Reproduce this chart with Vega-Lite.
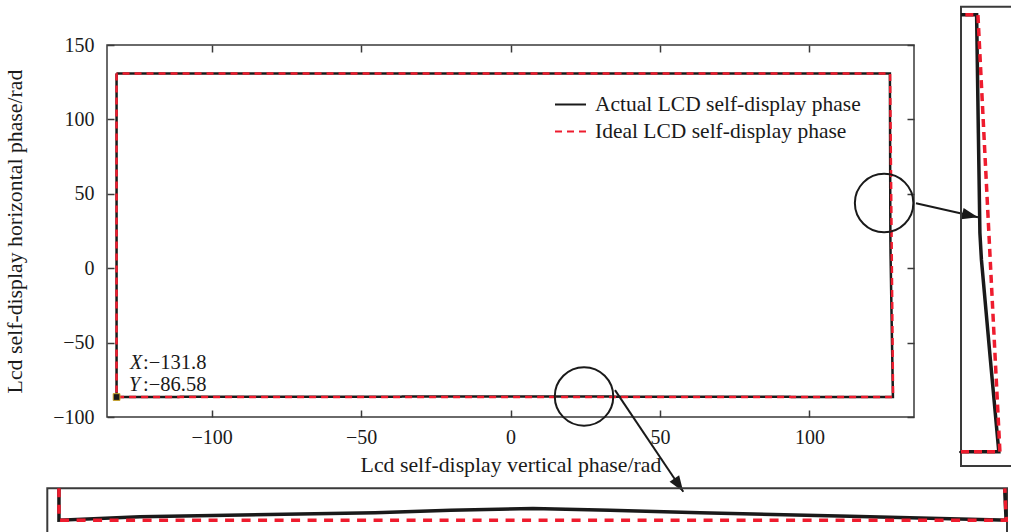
{
  "$schema": "https://vega.github.io/schema/vega-lite/v6.json",
  "width": 807,
  "height": 372,
  "autosize": {"type": "none"},
  "padding": {"left": 107, "top": 45, "right": 97, "bottom": 115},
  "background": "white",
  "config": {
    "view": {"stroke": "#3a3a3a", "strokeWidth": 1.5},
    "font": "Liberation Serif",
    "axis": {
      "labelFont": "Liberation Serif", "labelFontSize": 20, "labelColor": "#1a1a1a",
      "titleFont": "Liberation Serif", "titleFontSize": 21.8, "titleFontWeight": "normal", "titleColor": "#1a1a1a",
      "grid": false, "domain": false, "tickColor": "#3a3a3a", "tickWidth": 1.5, "tickSize": -7
    },
    "legend": {
      "orient": "none", "legendX": 447, "legendY": 43, "padding": 0,
      "symbolType": "stroke", "symbolSize": 961, "symbolStrokeWidth": 2,
      "labelFont": "Liberation Serif", "labelFontSize": 21.5, "labelColor": "#1a1a1a",
      "labelOffset": 8, "rowPadding": -0.5, "labelLimit": 400
    }
  },
  "datasets": {
    "phase": [
      {"series": "Actual LCD self-display phase", "i": 0, "vertical": -131.8, "horizontal": 130.8},
      {"series": "Actual LCD self-display phase", "i": 1, "vertical": -131.8, "horizontal": 0},
      {"series": "Actual LCD self-display phase", "i": 2, "vertical": -131.8, "horizontal": -86.58},
      {"series": "Actual LCD self-display phase", "i": 3, "vertical": -109.6, "horizontal": -86.47},
      {"series": "Actual LCD self-display phase", "i": 4, "vertical": -45.1, "horizontal": -86.34},
      {"series": "Actual LCD self-display phase", "i": 5, "vertical": -24.4, "horizontal": -86.26},
      {"series": "Actual LCD self-display phase", "i": 6, "vertical": -1.8, "horizontal": -86.2},
      {"series": "Actual LCD self-display phase", "i": 7, "vertical": 19.3, "horizontal": -86.26},
      {"series": "Actual LCD self-display phase", "i": 8, "vertical": 44.0, "horizontal": -86.34},
      {"series": "Actual LCD self-display phase", "i": 9, "vertical": 85.1, "horizontal": -86.45},
      {"series": "Actual LCD self-display phase", "i": 10, "vertical": 126.3, "horizontal": -86.57},
      {"series": "Actual LCD self-display phase", "i": 11, "vertical": 127.95, "horizontal": -86.58},
      {"series": "Actual LCD self-display phase", "i": 12, "vertical": 127.56, "horizontal": -40},
      {"series": "Actual LCD self-display phase", "i": 13, "vertical": 127.16, "horizontal": 8.8},
      {"series": "Actual LCD self-display phase", "i": 14, "vertical": 127.09, "horizontal": 22.2},
      {"series": "Actual LCD self-display phase", "i": 15, "vertical": 127.02, "horizontal": 71.95},
      {"series": "Actual LCD self-display phase", "i": 16, "vertical": 126.94, "horizontal": 130.8},
      {"series": "Actual LCD self-display phase", "i": 17, "vertical": 0, "horizontal": 130.8},
      {"series": "Actual LCD self-display phase", "i": 18, "vertical": -131.8, "horizontal": 130.8},
      {"series": "Ideal LCD self-display phase", "i": 0, "vertical": -131.8, "horizontal": 130.8},
      {"series": "Ideal LCD self-display phase", "i": 1, "vertical": -131.8, "horizontal": 0},
      {"series": "Ideal LCD self-display phase", "i": 2, "vertical": -131.8, "horizontal": -86.58},
      {"series": "Ideal LCD self-display phase", "i": 3, "vertical": 0, "horizontal": -86.58},
      {"series": "Ideal LCD self-display phase", "i": 4, "vertical": 128.0, "horizontal": -86.58},
      {"series": "Ideal LCD self-display phase", "i": 5, "vertical": 127.6, "horizontal": 0},
      {"series": "Ideal LCD self-display phase", "i": 6, "vertical": 127.0, "horizontal": 130.8},
      {"series": "Ideal LCD self-display phase", "i": 7, "vertical": 0, "horizontal": 130.8},
      {"series": "Ideal LCD self-display phase", "i": 8, "vertical": -131.8, "horizontal": 130.8}
    ]
  },
  "layer": [
    {
      "layer": [
        {
          "data": {"name": "phase"},
          "mark": {"type": "line", "strokeWidth": 2.5, "strokeCap": "butt"},
          "encoding": {
            "x": {"field": "vertical", "type": "quantitative",
              "scale": {"domain": [-135, 135], "nice": false, "zero": false},
              "axis": {"orient": "bottom", "values": [-100, -50, 0, 50, 100], "title": "Lcd self-display vertical phase/rad", "labelPadding": 17, "titlePadding": 7}},
            "y": {"field": "horizontal", "type": "quantitative",
              "scale": {"domain": [-100, 150], "nice": false, "zero": false},
              "axis": {"orient": "left", "values": [-100, -50, 0, 50, 100, 150], "title": "Lcd self-display horizontal phase/rad", "labelPadding": 20, "titlePadding": 26}},
            "order": {"field": "i", "type": "quantitative"},
            "color": {"field": "series", "type": "nominal",
              "scale": {"domain": ["Actual LCD self-display phase", "Ideal LCD self-display phase"], "range": ["#1a1a1a", "#ee1c2e"]},
              "legend": {"title": null}},
            "strokeDash": {"field": "series", "type": "nominal",
              "scale": {"domain": ["Actual LCD self-display phase", "Ideal LCD self-display phase"], "range": [[1, 0], [7, 5]]},
              "legend": {"title": null}}
          }
        },
        {
          "data": {"name": "phase"},
          "mark": {"type": "point", "opacity": 0},
          "encoding": {
            "x": {"field": "vertical", "type": "quantitative",
              "scale": {"domain": [-135, 135], "nice": false, "zero": false},
              "axis": {"orient": "top", "values": [-100, -50, 0, 50, 100], "labels": false, "title": null}},
            "y": {"field": "horizontal", "type": "quantitative",
              "scale": {"domain": [-100, 150], "nice": false, "zero": false},
              "axis": {"orient": "right", "values": [-100, -50, 0, 50, 100, 150], "labels": false, "title": null}}
          }
        },
        {
          "data": {"values": [{"vertical": 125.0, "horizontal": 43.8}, {"vertical": 24.6, "horizontal": -86.2}]},
          "mark": {"type": "point", "shape": "circle", "filled": false, "size": 3421, "stroke": "#1a1a1a", "strokeWidth": 2, "opacity": 1},
          "encoding": {
            "x": {"field": "vertical", "type": "quantitative", "axis": null},
            "y": {"field": "horizontal", "type": "quantitative", "axis": null}
          }
        },
        {
          "data": {"values": [{"vertical": 135.66, "horizontal": 43.67, "vertical2": 156.4, "horizontal2": 34.27}]},
          "layer": [
            {
              "mark": {"type": "rule", "color": "#1a1a1a", "strokeWidth": 2},
              "encoding": {
                "x": {"field": "vertical", "type": "quantitative", "axis": null},
                "y": {"field": "horizontal", "type": "quantitative", "axis": null},
                "x2": {"field": "vertical2"},
                "y2": {"field": "horizontal2"}
              }
            },
            {
              "mark": {"type": "point", "shape": "M0,0L-0.36,1L0.36,1Z", "filled": true, "color": "#1a1a1a", "size": 1024, "angle": 102.7, "opacity": 1},
              "encoding": {
                "x": {"field": "vertical2", "type": "quantitative", "axis": null},
                "y": {"field": "horizontal2", "type": "quantitative", "axis": null}
              }
            }
          ]
        },
        {
          "data": {"values": [{"vertical": 34.96, "horizontal": -81.93, "vertical2": 57.81, "horizontal2": -150.24}]},
          "layer": [
            {
              "mark": {"type": "rule", "color": "#1a1a1a", "strokeWidth": 2},
              "encoding": {
                "x": {"field": "vertical", "type": "quantitative", "axis": null},
                "y": {"field": "horizontal", "type": "quantitative", "axis": null},
                "x2": {"field": "vertical2"},
                "y2": {"field": "horizontal2"}
              }
            },
            {
              "mark": {"type": "point", "shape": "M0,0L-0.36,1L0.36,1Z", "filled": true, "color": "#1a1a1a", "size": 1024, "angle": 146.1, "opacity": 1},
              "encoding": {
                "x": {"field": "vertical2", "type": "quantitative", "axis": null},
                "y": {"field": "horizontal2", "type": "quantitative", "axis": null}
              }
            }
          ]
        },
        {
          "data": {"values": [{"vertical": -131.8, "horizontal": -86.58}]},
          "layer": [
            {
              "mark": {"type": "point", "shape": "square", "filled": true, "fill": "#1a1a1a", "stroke": "#c9a227", "strokeWidth": 1, "size": 45, "opacity": 1},
              "encoding": {
                "x": {"field": "vertical", "type": "quantitative", "axis": null},
                "y": {"field": "horizontal", "type": "quantitative", "axis": null}
              }
            },
            {
              "mark": {"type": "text", "text": "X", "font": "Liberation Serif", "fontStyle": "italic", "fontSize": 20, "align": "left", "baseline": "alphabetic", "dx": 13.4, "dy": -27.7, "color": "#1a1a1a"},
              "encoding": {
                "x": {"field": "vertical", "type": "quantitative", "axis": null},
                "y": {"field": "horizontal", "type": "quantitative", "axis": null}
              }
            },
            {
              "mark": {"type": "text", "text": ":−131.8", "font": "Liberation Serif", "fontSize": 20.5, "align": "left", "baseline": "alphabetic", "dx": 26.5, "dy": -27.7, "color": "#1a1a1a"},
              "encoding": {
                "x": {"field": "vertical", "type": "quantitative", "axis": null},
                "y": {"field": "horizontal", "type": "quantitative", "axis": null}
              }
            },
            {
              "mark": {"type": "text", "text": "Y", "font": "Liberation Serif", "fontStyle": "italic", "fontSize": 20, "align": "left", "baseline": "alphabetic", "dx": 12.5, "dy": -6.3, "color": "#1a1a1a"},
              "encoding": {
                "x": {"field": "vertical", "type": "quantitative", "axis": null},
                "y": {"field": "horizontal", "type": "quantitative", "axis": null}
              }
            },
            {
              "mark": {"type": "text", "text": ":−86.58", "font": "Liberation Serif", "fontSize": 20.5, "align": "left", "baseline": "alphabetic", "dx": 26.5, "dy": -6.3, "color": "#1a1a1a"},
              "encoding": {
                "x": {"field": "vertical", "type": "quantitative", "axis": null},
                "y": {"field": "horizontal", "type": "quantitative", "axis": null}
              }
            }
          ]
        }
      ],
      "resolve": {"axis": {"x": "independent", "y": "independent"}}
    },
    {
      "layer": [
        {
          "data": {"values": [{"vertical": 126.23, "vertical2": 128.6, "horizontal": -93.7, "horizontal2": 134.8}]},
          "mark": {"type": "rect", "fillOpacity": 0, "stroke": "#3a3a3a", "strokeWidth": 2},
          "encoding": {
            "x": {"field": "vertical", "type": "quantitative", "axis": null,
              "scale": {"domain": [126.23, 128.6], "range": [854, 906.1], "clamp": true, "nice": false, "zero": false}},
            "x2": {"field": "vertical2"},
            "y": {"field": "horizontal", "type": "quantitative", "axis": null,
              "scale": {"domain": [-93.7, 134.8], "range": [421, -38.3], "clamp": true, "nice": false, "zero": false}},
            "y2": {"field": "horizontal2"}
          }
        },
        {
          "data": {"name": "phase"},
          "transform": [{"filter": "datum.vertical >= 0 && datum.series == 'Actual LCD self-display phase'"}],
          "mark": {"type": "line", "color": "#1a1a1a", "strokeWidth": 3.5, "strokeCap": "butt"},
          "encoding": {
            "x": {"field": "vertical", "type": "quantitative", "axis": null,
              "scale": {"domain": [126.23, 128.6], "range": [854, 906.1], "clamp": true, "nice": false, "zero": false}},
            "y": {"field": "horizontal", "type": "quantitative", "axis": null,
              "scale": {"domain": [-93.7, 134.8], "range": [421, -38.3], "clamp": true, "nice": false, "zero": false}},
            "order": {"field": "i", "type": "quantitative"}
          }
        },
        {
          "data": {"name": "phase"},
          "transform": [{"filter": "datum.vertical >= 0 && datum.series == 'Ideal LCD self-display phase'"}],
          "mark": {"type": "line", "color": "#ee1c2e", "strokeWidth": 3.5, "strokeDash": [8, 5], "strokeCap": "butt"},
          "encoding": {
            "x": {"field": "vertical", "type": "quantitative", "axis": null,
              "scale": {"domain": [126.23, 128.6], "range": [854, 906.1], "clamp": true, "nice": false, "zero": false}},
            "y": {"field": "horizontal", "type": "quantitative", "axis": null,
              "scale": {"domain": [-93.7, 134.8], "range": [421, -38.3], "clamp": true, "nice": false, "zero": false}},
            "order": {"field": "i", "type": "quantitative"}
          }
        }
      ]
    },
    {
      "layer": [
        {
          "data": {"values": [{"vertical": -135, "vertical2": 128.2, "horizontal": -87.1, "horizontal2": -85.55}]},
          "mark": {"type": "rect", "fillOpacity": 0, "stroke": "#3a3a3a", "strokeWidth": 2},
          "encoding": {
            "x": {"field": "vertical", "type": "quantitative", "axis": null,
              "scale": {"domain": [-135, 128.2], "range": [-59.7, 900], "clamp": true, "nice": false, "zero": false}},
            "x2": {"field": "vertical2"},
            "y": {"field": "horizontal", "type": "quantitative", "axis": null,
              "scale": {"domain": [-87.1, -85.55], "range": [491.3, 443.3], "clamp": true, "nice": false, "zero": false}},
            "y2": {"field": "horizontal2"}
          }
        },
        {
          "data": {"name": "phase"},
          "transform": [{"filter": "datum.horizontal <= 0 && datum.series == 'Actual LCD self-display phase'"}],
          "mark": {"type": "line", "color": "#1a1a1a", "strokeWidth": 3.5, "strokeCap": "butt"},
          "encoding": {
            "x": {"field": "vertical", "type": "quantitative", "axis": null,
              "scale": {"domain": [-135, 128.2], "range": [-59.7, 900], "clamp": true, "nice": false, "zero": false}},
            "y": {"field": "horizontal", "type": "quantitative", "axis": null,
              "scale": {"domain": [-87.1, -85.55], "range": [491.3, 443.3], "clamp": true, "nice": false, "zero": false}},
            "order": {"field": "i", "type": "quantitative"}
          }
        },
        {
          "data": {"name": "phase"},
          "transform": [{"filter": "datum.horizontal <= 0 && datum.series == 'Ideal LCD self-display phase'"}],
          "mark": {"type": "line", "color": "#ee1c2e", "strokeWidth": 3.5, "strokeDash": [9, 7.5], "strokeCap": "butt"},
          "encoding": {
            "x": {"field": "vertical", "type": "quantitative", "axis": null,
              "scale": {"domain": [-135, 128.2], "range": [-59.7, 900], "clamp": true, "nice": false, "zero": false}},
            "y": {"field": "horizontal", "type": "quantitative", "axis": null,
              "scale": {"domain": [-87.1, -85.55], "range": [491.3, 443.3], "clamp": true, "nice": false, "zero": false}},
            "order": {"field": "i", "type": "quantitative"}
          }
        }
      ]
    }
  ],
  "resolve": {"scale": {"x": "independent", "y": "independent"}}
}
